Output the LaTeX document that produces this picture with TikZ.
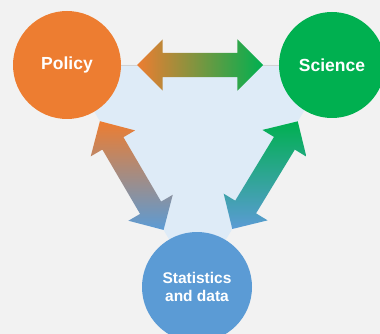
\documentclass[tikz,border=0pt]{standalone}
\usepackage{fontspec}
\setmainfont{Liberation Sans}
\usetikzlibrary{shapes.arrows,backgrounds}
\definecolor{pol}{HTML}{ED7D31}
\definecolor{sci}{HTML}{00B050}
\definecolor{sta}{HTML}{5B9BD5}
\definecolor{tri}{HTML}{DEEBF7}
\definecolor{bg}{HTML}{F2F2F2}

\begin{document}
\begin{tikzpicture}[x=1pt,y=-1pt,
    topic/.style = {circle, minimum size=108pt, inner sep=0pt, text=white, align=center,
        font=\fontsize{17.5}{20}\selectfont\bfseries},
    link/.style = {double arrow, sloped, allow upside down, draw=none,
        inner xsep=0pt, inner ysep=12pt, minimum height=126pt, double arrow head extend=13.5pt}]
    \useasboundingbox (0,0) rectangle (380,334);

    \node[topic, fill=pol](policy) at (67,65) {Policy};
    \node[topic, fill=sci, minimum size=106pt](science) at (332,65) {Science};
    \node[topic, fill=sta, minimum size=110pt, font=\fontsize{15.5}{18.5}\selectfont\bfseries](stats) at (197,287) {Statistics\\and data};

    \begin{scope}[on background layer]
        \fill[bg] (0,0) rectangle (380,334);
        \fill[tri] (policy.center) -- (science.center) -- (stats.center) -- cycle;
        \draw[gray!35, line width=0.6pt] (policy.center) -- (science.center);
    \end{scope}

    \path (policy) -- node[link, left color=pol, right color=sci]{} (science);
    \path (policy) -- node[link, top color=pol, bottom color=sta]{} (stats);
    \path (science) -- node[link, top color=sci, bottom color=sta]{} (stats);
\end{tikzpicture}
\end{document}
